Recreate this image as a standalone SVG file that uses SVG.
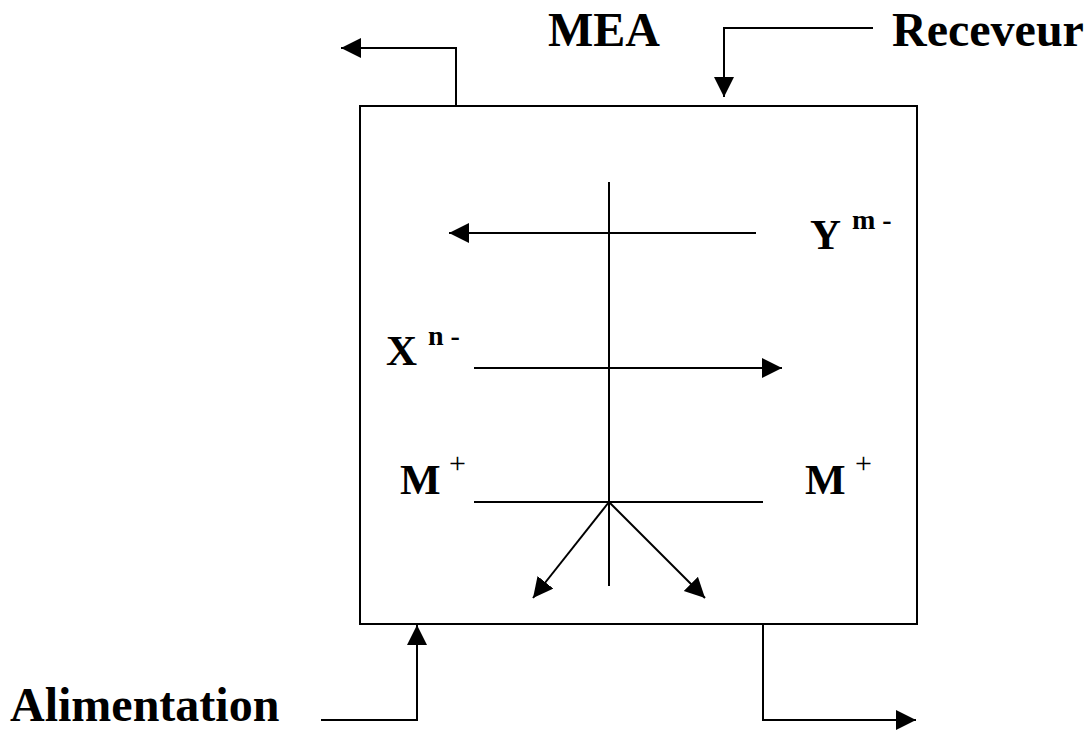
<svg xmlns="http://www.w3.org/2000/svg" width="1087" height="733" viewBox="0 0 1087 733">
<style>
.ln{stroke:#000;stroke-width:2;fill:none}
.arr{marker-end:url(#ah)}
.big{font-family:"Liberation Serif","Times New Roman",serif;font-weight:bold;font-size:48px;fill:#000}
.lab{font-family:"Liberation Serif","Times New Roman",serif;font-weight:bold;font-size:43px;fill:#000}
.sup{font-family:"Liberation Serif","Times New Roman",serif;font-weight:bold;font-size:28px;fill:#000}
.plus{font-family:"Liberation Serif","Times New Roman",serif;font-weight:normal;font-size:30px;fill:#000}
</style>
<defs>
<marker id="ah" markerUnits="userSpaceOnUse" markerWidth="22" markerHeight="22" refX="20" refY="10" orient="auto">
<path d="M0,0 L20,10 L0,20 z" fill="#000"/>
</marker>
</defs>
<rect x="0" y="0" width="1087" height="733" fill="#fff"/>
<g id="box">
<rect x="360" y="106" width="557" height="518" class="ln"/>
</g>
<g id="labels">
<text class="big" x="548" y="46">MEA</text>
<text class="big" x="892" y="46">Receveur</text>
<text class="big" x="10" y="721">Alimentation</text>
<text class="lab" x="810" y="249">Y</text>
<text class="sup" x="852" y="229">m -</text>
<text class="lab" x="386" y="365">X</text>
<text class="sup" x="428" y="345">n -</text>
<text class="lab" x="400" y="494">M</text>
<text class="plus" x="449" y="473">+</text>
<text class="lab" x="805" y="494">M</text>
<text class="plus" x="855" y="473">+</text>
</g>
<g id="connectors">
<polyline class="ln arr" points="456,106 456,48 341,48"/>
<polyline class="ln arr" points="873,28 724,28 724,97"/>
<polyline class="ln arr" points="321,720 417,720 417,625"/>
<polyline class="ln arr" points="763,624 763,720 916,720"/>
<line class="ln" x1="609" y1="182" x2="609" y2="586"/>
<line class="ln arr" x1="756" y1="233" x2="449" y2="233"/>
<line class="ln arr" x1="474" y1="368" x2="782" y2="368"/>
<line class="ln" x1="474" y1="502" x2="763" y2="502"/>
<line class="ln arr" x1="609" y1="502" x2="533" y2="598"/>
<line class="ln arr" x1="609" y1="502" x2="705" y2="598"/>
</g>
</svg>
